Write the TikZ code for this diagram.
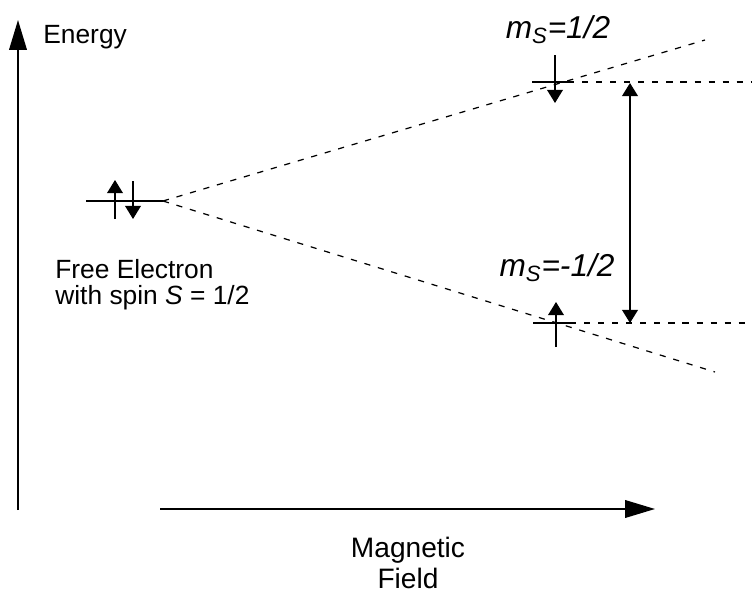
\documentclass[tikz,border=0pt]{standalone}
\usepackage{fontspec}
\setmainfont{Liberation Sans}
\usetikzlibrary{arrows.meta, positioning}

\tikzset{
  axisarrow/.style={line width=1pt, -{Triangle[length=17pt,width=10pt]}},
  spinarrow/.style={line width=0.8pt, -{Triangle[length=7.5pt,width=9pt]}},
  gaparrow/.style={line width=1pt, {Triangle[length=7.5pt,width=9pt]}-{Triangle[length=7.5pt,width=9pt]}},
  levelline/.style={line width=0.8pt},
  splitline/.style={line width=0.7pt, dash pattern=on 3.5pt off 4.5pt},
  txt/.style={inner sep=0pt, font=\fontsize{15}{15}\selectfont},
  statetxt/.style={inner sep=0pt, font=\fontsize{18}{18}\selectfont\itshape}
}

\begin{document}
\begin{tikzpicture}[x=0.02cm, y=-0.02cm]
\useasboundingbox (0,0) rectangle (752,595);

% axes
\coordinate (Ebot) at (18,510);
\coordinate (Etop) at (18,20);
\draw[axisarrow] (Ebot) -- (Etop);
\node[txt, anchor=west] (energy) at (43,37) {Energy};

\coordinate (Bstart) at (160,509);
\coordinate (Bend) at (655,509);
\draw[axisarrow] (Bstart) -- (Bend);
\node[txt, align=center, font=\fontsize{16}{18}\selectfont] (field) at (408,563) {Magnetic\\Field};

% free electron level
\coordinate (freeL) at (86,201);
\coordinate (freeR) at (163,201);
\draw[levelline] (freeL) -- (freeR);
\draw[spinarrow] (115,219) -- (115,180);
\draw[spinarrow] (133,181) -- (133,219);
\node[txt, anchor=west, align=left, font=\fontsize{15}{15}\selectfont] (free) at (55,285)
  {Free Electron\\with spin \textit{S} = 1/2};

% splitting
\coordinate (upEnd) at (705,40);
\coordinate (lowEnd) at (715,372);
\draw[splitline] (freeR) -- (upEnd);
\draw[splitline] (freeR) -- (lowEnd);

% upper level
\coordinate (upL) at (532,82);
\coordinate (upR) at (568,82);
\coordinate (upFar) at (752,82);
\draw[levelline] (upL) -- (upR);
\draw[splitline] (upR) -- (upFar);
\draw[spinarrow] (555,55) -- (555,103);
\node[statetxt] (mup) at (558,30) {m\textsubscript{S}=1/2};

% lower level
\coordinate (lowL) at (533,323);
\coordinate (lowR) at (570,323);
\coordinate (lowFar) at (752,323);
\draw[levelline] (lowL) -- (lowR);
\draw[splitline] (lowR) -- (lowFar);
\draw[spinarrow] (556,347) -- (556,302);
\node[statetxt] (mlow) at (557,268) {m\textsubscript{S}=-1/2};

% energy gap
\coordinate (gapTop) at (630,83);
\coordinate (gapBot) at (630,323);
\draw[gaparrow] (gapTop) -- (gapBot);
\end{tikzpicture}
\end{document}
